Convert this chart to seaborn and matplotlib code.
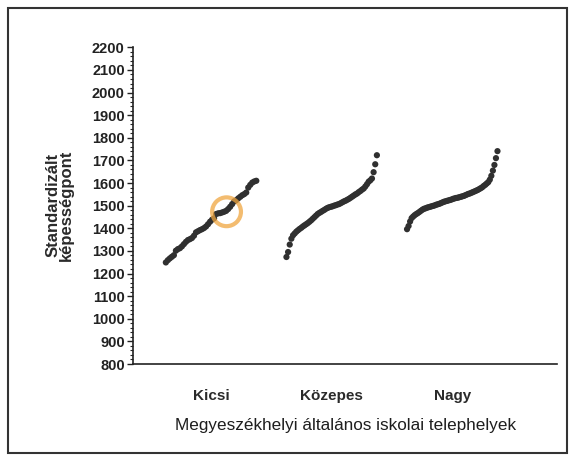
import numpy as np
import pandas as pd
import matplotlib.pyplot as plt
import seaborn as sns
from matplotlib.patches import Rectangle
from matplotlib.ticker import MultipleLocator

# kategóriák és a pontszámok (növekvő sorrendben)
groups = ['Kicsi', 'Közepes', 'Nagy']

kicsi = [1249, 1259, 1267, 1274, 1281, 1301, 1308, 1312, 1320, 1330,
         1340, 1348, 1352, 1357, 1367, 1382, 1387, 1392, 1396, 1401,
         1408, 1418, 1429, 1438, 1444, 1463, 1466, 1467, 1470, 1473,
         1477, 1485, 1495, 1507, 1519, 1524, 1532, 1539, 1546, 1551,
         1558, 1580, 1592, 1602, 1607, 1610]

kozepes = [1273, 1295, 1328, 1354, 1369, 1377, 1385, 1391, 1397, 1402,
           1408, 1413, 1418, 1423, 1429, 1435, 1442, 1449, 1456, 1463,
           1468, 1472, 1477, 1481, 1486, 1490, 1493, 1495, 1497, 1500,
           1502, 1505, 1507, 1511, 1515, 1519, 1522, 1526, 1530, 1535,
           1540, 1545, 1550, 1554, 1560, 1565, 1571, 1576, 1585, 1595,
           1606, 1612, 1620, 1648, 1683, 1723]

nagy = [1396, 1410, 1430, 1445, 1452, 1458, 1463, 1467, 1472, 1477,
        1482, 1486, 1488, 1491, 1493, 1495, 1497, 1499, 1501, 1504,
        1506, 1508, 1511, 1514, 1517, 1519, 1521, 1523, 1525, 1527,
        1530, 1532, 1534, 1535, 1537, 1539, 1541, 1543, 1546, 1549,
        1552, 1554, 1557, 1560, 1563, 1566, 1569, 1573, 1577, 1581,
        1587, 1592, 1598, 1604, 1615, 1632, 1655, 1680, 1710, 1741]

highlight_group = 'Kicsi'
highlight_rank = 29

# pontok helye a kategórián belül a rangsor szerint
rows = []
for i, (g, vals) in enumerate(zip(groups, [kicsi, kozepes, nagy])):
    n = len(vals)
    for r, v in enumerate(sorted(vals)):
        rows.append({'group': g, 'rank': r, 'value': v,
                     'pos': i + (r / (n - 1) - 0.5) * 0.75})
df = pd.DataFrame(rows)

sns.set_style('white')
plt.rcParams['font.family'] = ['Liberation Sans', 'DejaVu Sans']

fig = plt.figure(figsize=(5.71, 4.55), dpi=100)
ax = fig.add_axes([0.233, 0.2, 0.743, 0.696])

sns.scatterplot(data=df, x='pos', y='value', color='#303030', s=20,
                edgecolor='none', ax=ax, legend=False)

hl = df[(df['group'] == highlight_group) & (df['rank'] == highlight_rank)]
ax.scatter(hl['pos'] + 0.02, hl['value'], s=430, facecolor='none',
           edgecolor='#f0a640', linewidth=3, alpha=0.75, zorder=5)

ax.set_xlim(-0.647, 2.871)
ax.set_ylim(800, 2200)
ax.yaxis.set_major_locator(MultipleLocator(100))
ax.yaxis.set_minor_locator(MultipleLocator(20))
ax.set_xticks(range(len(groups)))
ax.set_xticklabels(groups, fontsize=11, fontweight='bold')
ax.tick_params(axis='x', length=0, pad=18, colors='#2a2a2a')
ax.tick_params(axis='y', which='major', length=4, width=1, labelsize=10.5,
               direction='out', colors='#222222', left=True, pad=2)
ax.tick_params(axis='y', which='minor', length=2, width=0.8, left=True)
for lab in ax.get_yticklabels():
    lab.set_fontweight('bold')

for side in ['top', 'right']:
    ax.spines[side].set_visible(False)
for side in ['left', 'bottom']:
    ax.spines[side].set_color('#222222')
    ax.spines[side].set_linewidth(1.2)

ax.set_ylabel('')
ax.set_xlabel('Megyeszékhelyi általános iskolai telephelyek', fontsize=12.3,
              color='#1e1e1e', labelpad=11)
fig.text(60 / 571, 1 - 205 / 455, 'Standardizált\nképességpont', rotation=90,
         ha='center', va='center', fontsize=12, fontweight='bold',
         color='#2a2a2a', linespacing=0.85)

fig.patches.append(Rectangle((0.014, 0.004), 0.979, 0.978, transform=fig.transFigure,
                             fill=False, edgecolor='#333333', linewidth=1.5))

fig.savefig('out.png', dpi=100)
